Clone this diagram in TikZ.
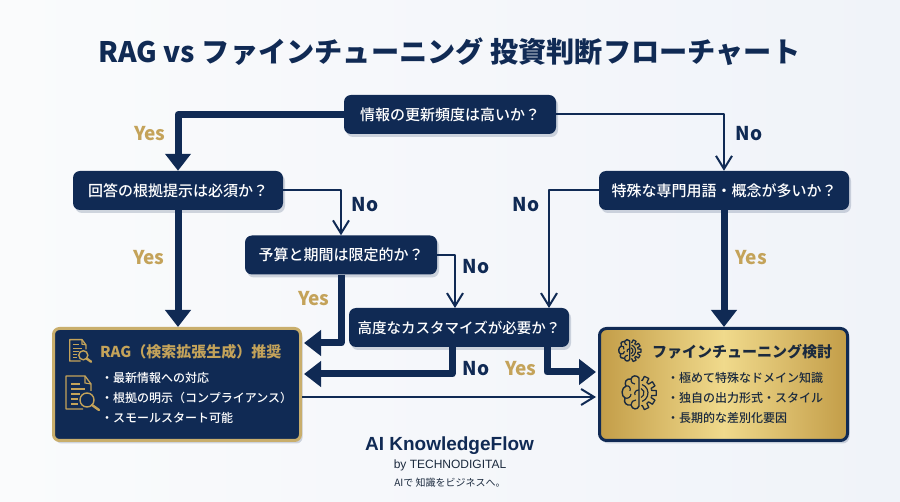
\documentclass[tikz,border=0pt]{standalone}
\usepackage{fontspec}
\usepackage{tikz}
\usetikzlibrary{arrows.meta,shadows}
\setmainfont{Noto Sans CJK JP}
\newfontfamily\medfont{Noto Sans CJK JP Medium}
\newfontfamily\footfont{Liberation Sans}
\definecolor{navy}{HTML}{102A54}
\definecolor{goldtext}{HTML}{C4A35A}
\definecolor{goldedge}{HTML}{C9AE6C}
\definecolor{golddark}{HTML}{C39D48}
\definecolor{goldlight}{HTML}{F0DA8C}
\definecolor{inkdark}{HTML}{1B2A3E}
\definecolor{bgleft}{HTML}{FAFBFC}
\definecolor{bgright}{HTML}{F0F3F9}
\begin{document}
\begin{tikzpicture}
        [x=1pt,y=-1pt,
        softshadow/.style={drop shadow={shadow xshift=2pt,shadow yshift=-3pt,opacity=.18,fill=navy}},
        question/.style={draw=none,fill=navy,rounded corners=7pt,text=white,softshadow,inner sep=0,font=\fontsize{15}{18}\selectfont\medfont},
        ragbox/.style={draw=goldedge,line width=3pt,fill=navy,rounded corners=6pt,softshadow,inner sep=0,minimum width=247pt,minimum height=112pt},
        tunebox/.style={draw=navy,line width=3pt,left color=golddark,right color=golddark,middle color=goldlight,rounded corners=7pt,softshadow,inner sep=0,minimum width=248pt,minimum height=112pt},
        boldarrow/.style={draw=navy,line width=7pt,line join=round,-{Triangle[length=17pt,width=25pt]}},
        thinarrow/.style={draw=navy,line width=2pt,line join=round,-{Straight Barb[length=13pt,width=16pt,line width=2pt]}},
        yeslabel/.style={inner sep=0,text=goldtext,font=\fontsize{19}{22}\selectfont\bfseries},
        nolabel/.style={inner sep=0,text=navy,font=\fontsize{19}{22}\selectfont\bfseries},
        listtext/.style={anchor=west,inner sep=0,font=\fontsize{12}{14}\selectfont\medfont},
        docicon/.pic={
          \draw[line width=1.3pt,line join=round] (18,34) -- (1,34) -- (1,1) -- (20,1) -- (26,9) -- (26,16);
          \draw[line width=1.1pt] (20,1) -- (20,8) -- (26,9);
          \draw[line width=1.1pt] (6,9) -- (15,9);
          \draw[line width=1.1pt] (6,14) -- (20,14);
          \draw[line width=1.1pt] (6,19) -- (15,19);
          \draw[line width=1.1pt] (6,24) -- (13,24);
          \draw[line width=1.1pt] (6,29) -- (13,29);
          \draw[line width=1.4pt] (22,25) circle (7);
          \draw[line width=2.4pt,line cap=round] (27,30) -- (34,35);
        },
        brainicon/.pic={
          \draw[line width=1.4pt,line join=round] (18,3) .. controls (16,0) and (11,0) .. (10,4) .. controls (5,3) and (3,8) .. (5,11) .. controls (0,13) and (0,21) .. (4,23) .. controls (2,28) and (6,31) .. (10,30) .. controls (11,35) and (17,35) .. (18,31) -- cycle;
          \draw[line width=1.2pt] (10,4) .. controls (10,8) and (12,9) .. (14,9);
          \draw[line width=1.2pt] (5,11) .. controls (8,10) and (10,13) .. (9,16);
          \draw[line width=1.2pt] (4,23) .. controls (7,24) and (10,22) .. (10,19);
          \draw[line width=1.2pt] (10,30) .. controls (10,27) and (12,25) .. (15,25);
          \draw[line width=1.2pt] (18,15) .. controls (15,15) and (13,17) .. (14,20);
          \begin{scope}[shift={(18,18)}]
            \draw[line width=1.2pt] (-65:5) arc[start angle=-65,end angle=65,radius=5];
            \draw[line width=1.2pt] (-70:9) arc[start angle=-70,end angle=70,radius=9];
            \foreach \a in {-64,-32,0,32,64}{
              \draw[line width=1.3pt,line join=round] ({\a-16}:13) -- ({\a-11}:13) -- ({\a-8}:17.5) -- ({\a+8}:17.5) -- ({\a+11}:13) -- ({\a+16}:13);
            }
          \end{scope}
        }]

        \useasboundingbox (0,0) rectangle (900,502);
        \shade[left color=bgleft,right color=bgright] (0,0) rectangle (900,502);

        \node[inner sep=0,text=navy,font=\fontsize{28.2}{32}\selectfont\bfseries] (heading) at (449.5,52) {RAG vs ファインチューニング 投資判断フローチャート};

        \node[question,minimum width=212pt,minimum height=39pt] (info) at (450,114.5) {情報の更新頻度は高いか？};
        \node[question,minimum width=210pt,minimum height=39pt] (basis) at (178,190.5) {回答の根拠提示は必須か？};
        \node[question,minimum width=192pt,minimum height=39pt] (budget) at (341,255) {予算と期間は限定的か？};
        \node[question,minimum width=220pt,minimum height=39pt,font=\fontsize{14.5}{18}\selectfont\medfont] (custom) at (459,327.5) {高度なカスタマイズが必要か？};
        \node[question,minimum width=250pt,minimum height=39pt] (term) at (724,190.5) {特殊な専門用語・概念が多いか？};
        \node[ragbox] (rag) at (177,384.5) {};
        \node[tunebox] (tune) at (723.5,384.5) {};

        \coordinate (customin) at (455,308);
        \coordinate (customright) at (549,308);
        \coordinate (customno) at (452,347);
        \coordinate (customyes) at (547,347);
        \coordinate (ragupper) at (304,343);
        \coordinate (raglower) at (304,374);
        \coordinate (ragout) at (302,397);
        \coordinate (tuneupper) at (596,372);
        \coordinate (tunelower) at (596,397);

        \draw[boldarrow] (info.west) -| (basis.north);
        \draw[thinarrow] (info.east) -| (term.north);
        \draw[boldarrow] (basis.south) -- (basis.south |- rag.north);
        \draw[thinarrow] (basis.east) -| (budget.north);
        \draw[thinarrow] (budget.east) -| (customin);
        \draw[boldarrow] (budget.south) |- (ragupper);
        \draw[thinarrow] (term.west) -| (customright);
        \draw[boldarrow] (term.south) -- (term.south |- tune.north);
        \draw[boldarrow] (customno) |- (raglower);
        \draw[boldarrow] (customyes) |- (tuneupper);
        \draw[thinarrow] (ragout) -- (tunelower);

        \node[yeslabel] (yesa) at (150,134) {Yes};
        \node[yeslabel] (yesb) at (149,258) {Yes};
        \node[yeslabel] (yesc) at (314,299) {Yes};
        \node[yeslabel] (yesd) at (751,258) {Yes};
        \node[yeslabel] (yese) at (521,369) {Yes};
        \node[nolabel] (noa) at (365,205) {No};
        \node[nolabel] (nob) at (476,267) {No};
        \node[nolabel] (noc) at (749,134) {No};
        \node[nolabel] (nod) at (526,205) {No};
        \node[nolabel] (noe) at (476,369) {No};

        \pic[color=goldtext,scale=.65] at (69,339) {docicon};
        \pic[color=goldtext] at (65,375) {docicon};
        \node[listtext,text=goldtext,font=\fontsize{15}{18}\selectfont\bfseries] (ragtitle) at (100,352) {RAG（検索拡張生成）推奨};
        \node[listtext,text=white] (raga) at (101,378) {・最新情報への対応};
        \node[listtext,text=white] (ragb) at (101,398) {・根拠の明示（コンプライアンス）};
        \node[listtext,text=white] (ragc) at (101,418) {・スモールスタート可能};

        \pic[color=inkdark,scale=.65] at (618,339) {brainicon};
        \pic[color=inkdark] at (621,375) {brainicon};
        \node[listtext,text=inkdark,font=\fontsize{15}{18}\selectfont\bfseries] (tunetitle) at (652,352) {ファインチューニング検討};
        \node[listtext,text=inkdark] (tunea) at (667,378) {・極めて特殊なドメイン知識};
        \node[listtext,text=inkdark] (tuneb) at (667,398) {・独自の出力形式・スタイル};
        \node[listtext,text=inkdark] (tunec) at (667,418) {・長期的な差別化要因};

        \node[inner sep=0,text=navy,font=\fontsize{19}{21}\selectfont\footfont\bfseries] (brand) at (449.5,446) {AI KnowledgeFlow};
        \node[inner sep=0,text=inkdark,font=\fontsize{12}{14}\selectfont\footfont] (maker) at (450,465) {by TECHNODIGITAL};
        \node[inner sep=0,text=inkdark,font=\fontsize{10}{12}\selectfont] (motto) at (450,483) {AIで 知識をビジネスへ。};
      \end{tikzpicture}
\end{document}
